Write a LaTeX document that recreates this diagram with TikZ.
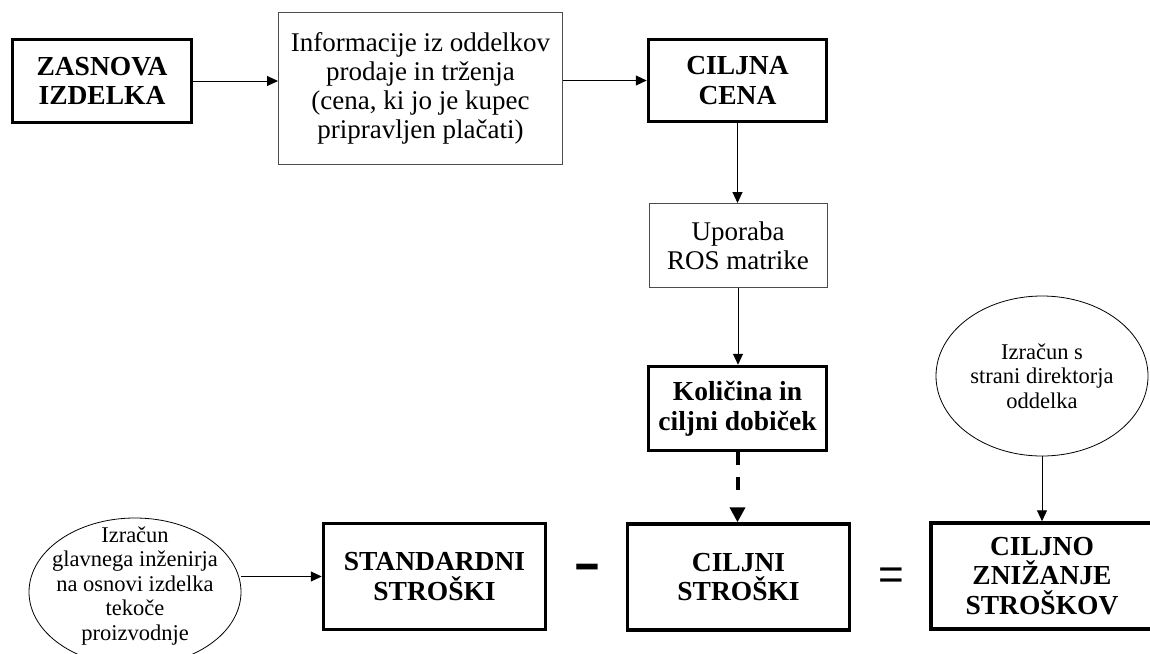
\documentclass[tikz,border=0pt]{standalone}
\usepackage{fontspec}
\setmainfont{Liberation Serif}
\newfontfamily\opfont{Liberation Sans}
\usetikzlibrary{arrows.meta,shapes.geometric,calc}

\tikzset{
  heavybox/.style={draw, line width=3.5pt, inner sep=0pt, align=center,
    font=\fontsize{27.5}{29.5}\selectfont\bfseries},
  lightbox/.style={draw=black!70, line width=1pt, inner sep=0pt, align=center,
    font=\fontsize{27}{29}\selectfont},
  oval/.style={draw, ellipse, line width=0.8pt, inner sep=0pt},
  ovaltext/.style={inner sep=0pt, align=center, font=\fontsize{22.5}{24.5}\selectfont},
  link/.style={line width=1pt, -{Triangle[length=11pt,width=10pt]}},
  dashlink/.style={line width=4pt, dash pattern=on 13pt off 12pt on 13pt off 40pt,
    -{Triangle[length=15pt,width=15pt]}},
  opsign/.style={inner sep=0pt}
}

\begin{document}
\begin{tikzpicture}[x=1pt,y=-1pt]
  \useasboundingbox (0,0) rectangle (1150,653);

  % top row
  \node[heavybox, minimum width=179pt, minimum height=83pt] (zas) at (102,81)
    {ZASNOVA\\IZDELKA};
  \node[lightbox, minimum width=284pt, minimum height=152pt] (info) at (420.5,88.5)
    {Informacije iz oddelkov\\prodaje in trženja\\(cena, ki jo je kupec\\pripravljen plačati)};
  \node[heavybox, minimum width=178pt, minimum height=82pt] (cena) at (737.5,80.5)
    {CILJNA\\CENA};

  % middle column
  \node[lightbox, minimum width=178pt, minimum height=84pt] (ros) at (738,245.5)
    {Uporaba\\ROS matrike};
  \node[heavybox, minimum width=178pt, minimum height=84pt] (kol) at (737.5,408.5)
    {Količina in\\ciljni dobiček};

  % bottom row
  \node[oval, minimum width=212pt, minimum height=148pt,
    label={[ovaltext, yshift=6pt]center:{Izračun\\glavnega inženirja\\na osnovi izdelka\\tekoče\\proizvodnje}}]
    (ing) at (135,592) {};
  \node[heavybox, minimum width=222pt, minimum height=106pt] (std) at (434.5,576.5)
    {STANDARDNI\\STROŠKI};
  \node[opsign, font=\opfont\fontsize{48}{48}\selectfont\bfseries] (minus) at (587,572)
    {\scalebox{1.75}[1]{-}};
  \node[heavybox, minimum width=222pt, minimum height=106pt] (cst) at (738.5,577)
    {CILJNI\\STROŠKI};
  \node[opsign, font=\opfont\fontsize{44}{44}\selectfont] (eq) at (891,579) {=};
  \node[heavybox, minimum width=222pt, minimum height=106pt] (czn) at (1042,576)
    {CILJNO\\ZNIŽANJE\\STROŠKOV};

  % division director
  \node[oval, minimum width=212pt, minimum height=160pt,
    label={[ovaltext]center:{Izračun s\\strani direktorja\\oddelka}}]
    (dir) at (1042,376) {};

  % connectors
  \draw[link] (zas.east) -- (zas.east -| info.west);
  \draw[link] (info.east |- cena.west) -- (cena.west);
  \draw[link] (cena.south) -- (cena.south |- ros.north);
  \draw[link] (ros.south) -- (ros.south |- kol.north);
  \draw[dashlink] (kol.south) -- (kol.south |- cst.north);
  \draw[link] (ing.east |- std.west) -- (std.west);
  \draw[link] (dir.south) -- (dir.south |- czn.north);
\end{tikzpicture}
\end{document}
